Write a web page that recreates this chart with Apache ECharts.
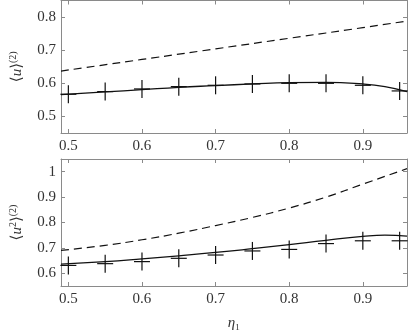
<!DOCTYPE html>
<html>
<head>
<meta charset="utf-8">
<script src="https://cdn.jsdelivr.net/npm/echarts@6/dist/echarts.min.js"></script>
<style>
  html, body { margin: 0; padding: 0; background: #fff; }
  #chart { width: 409px; height: 332px; }
</style>
</head>
<body>
<div id="chart"></div>
<script>
// top panel: <u>^(2)
const topDashX = [0.49, 0.6, 0.7, 0.8, 0.9, 0.96];
const topDashY = [0.637, 0.672, 0.704, 0.736, 0.768, 0.788];
const topSolidX = [0.49, 0.55, 0.6, 0.65, 0.7, 0.75, 0.8, 0.85, 0.9, 0.93, 0.96];
const topSolidY = [0.566, 0.574, 0.581, 0.588, 0.593, 0.598, 0.602, 0.603, 0.598, 0.59, 0.575];
const topMarkX = [0.5, 0.55, 0.6, 0.65, 0.7, 0.75, 0.8, 0.85, 0.9, 0.95];
const topMarkY = [0.567, 0.575, 0.583, 0.59, 0.594, 0.598, 0.6, 0.6, 0.594, 0.577];

// bottom panel: <u^2>^(2)
const botDashX = [0.49, 0.55, 0.6, 0.65, 0.7, 0.75, 0.8, 0.85, 0.9, 0.96];
const botDashY = [0.69, 0.71, 0.732, 0.758, 0.788, 0.82, 0.857, 0.9, 0.951, 1.012];
const botSolidX = [0.49, 0.55, 0.6, 0.65, 0.7, 0.75, 0.8, 0.85, 0.9, 0.93, 0.96];
const botSolidY = [0.636, 0.646, 0.657, 0.669, 0.682, 0.697, 0.713, 0.73, 0.745, 0.75, 0.746];
const botMarkX = [0.5, 0.55, 0.6, 0.65, 0.7, 0.75, 0.8, 0.85, 0.9, 0.95];
const botMarkY = [0.631, 0.638, 0.646, 0.659, 0.672, 0.688, 0.694, 0.717, 0.728, 0.728];

const zip = (xs, ys) => xs.map((x, i) => [x, ys[i]]);
const font = '"Liberation Serif", "DejaVu Serif", serif';
const axisCol = '#8a8a8a';
const fmt = v => String(+v.toFixed(2));

const chart = echarts.init(document.getElementById('chart'));

const xAxisBase = (gridIndex, showLabels, pos) => ({
  type: 'value', gridIndex: gridIndex, position: pos,
  min: 0.49, max: 0.96, splitNumber: 5,
  axisLine: { show: true, onZero: false, lineStyle: { color: axisCol } },
  axisTick: { show: true, inside: true, length: 4, lineStyle: { color: axisCol } },
  axisLabel: { show: showLabels, showMinLabel: false, showMaxLabel: false,
    fontFamily: font, fontSize: 15, color: '#333', margin: 6, formatter: fmt },
  splitLine: { show: false }
});

const yAxisBase = (gridIndex, min, max, showLabels, pos) => ({
  type: 'value', gridIndex: gridIndex, position: pos,
  min: min, max: max, splitNumber: 5,
  axisLine: { show: true, onZero: false, lineStyle: { color: axisCol } },
  axisTick: { show: true, inside: true, length: 4, lineStyle: { color: axisCol } },
  axisLabel: { show: showLabels, showMinLabel: false, showMaxLabel: false,
    fontFamily: font, fontSize: 15, color: '#333', margin: 5, formatter: fmt },
  splitLine: { show: false }
});

const richName = {
  a: { fontFamily: font, fontSize: 15, color: '#333' },
  i: { fontFamily: font, fontSize: 15, fontStyle: 'italic', color: '#333' },
  s: { fontFamily: font, fontSize: 10, color: '#333', padding: [0, 0, 9, 0] }
};

const crossRender = (params, api) => {
  const p = api.coord([api.value(0), api.value(1)]);
  const st = { stroke: '#111', lineWidth: 1.2 };
  return {
    type: 'group',
    children: [
      { type: 'line', shape: { x1: p[0], y1: p[1] - 9, x2: p[0], y2: p[1] + 9 }, style: st },
      { type: 'line', shape: { x1: p[0] - 8, y1: p[1], x2: p[0] + 8, y2: p[1] }, style: st }
    ]
  };
};

const option = {
  animation: false,
  grid: [
    { left: 45, top: 0.5, width: 362, height: 132.5 },
    { left: 45, top: 159, width: 362, height: 132.5 }
  ],
  xAxis: [
    xAxisBase(0, true, 'bottom'),
    xAxisBase(0, false, 'top'),
    Object.assign(xAxisBase(1, true, 'bottom'), {
      name: '{i|η}{a|₁}', nameLocation: 'middle', nameGap: 30,
      nameTextStyle: { rich: richName }
    }),
    xAxisBase(1, false, 'top')
  ],
  yAxis: [
    Object.assign(yAxisBase(0, 0.45, 0.85, true, 'left'), {
      name: '{a|⟨}{i|u}{a|⟩}{s|(2)}', nameLocation: 'middle', nameGap: 34, nameRotate: 90,
      nameTextStyle: { rich: richName }
    }),
    yAxisBase(0, 0.45, 0.85, false, 'right'),
    Object.assign(yAxisBase(1, 0.55, 1.05, true, 'left'), {
      name: '{a|⟨}{i|u}{s|2}{a|⟩}{s|(2)}', nameLocation: 'middle', nameGap: 34, nameRotate: 90,
      nameTextStyle: { rich: richName }
    }),
    yAxisBase(1, 0.55, 1.05, false, 'right')
  ],
  series: [
    { type: 'line', xAxisIndex: 0, yAxisIndex: 0, data: zip(topDashX, topDashY), smooth: true,
      showSymbol: false, lineStyle: { color: '#111', width: 1.2, type: [8, 5] } },
    { type: 'line', xAxisIndex: 0, yAxisIndex: 0, data: zip(topSolidX, topSolidY), smooth: true,
      showSymbol: false, lineStyle: { color: '#111', width: 1.3 } },
    { type: 'custom', xAxisIndex: 0, yAxisIndex: 0, data: zip(topMarkX, topMarkY), renderItem: crossRender },
    { type: 'line', xAxisIndex: 2, yAxisIndex: 2, data: zip(botDashX, botDashY), smooth: true,
      showSymbol: false, lineStyle: { color: '#111', width: 1.2, type: [8, 5] } },
    { type: 'line', xAxisIndex: 2, yAxisIndex: 2, data: zip(botSolidX, botSolidY), smooth: true,
      showSymbol: false, lineStyle: { color: '#111', width: 1.3 } },
    { type: 'custom', xAxisIndex: 2, yAxisIndex: 2, data: zip(botMarkX, botMarkY), renderItem: crossRender }
  ]
};
chart.setOption(option);
</script>
</body>
</html>
